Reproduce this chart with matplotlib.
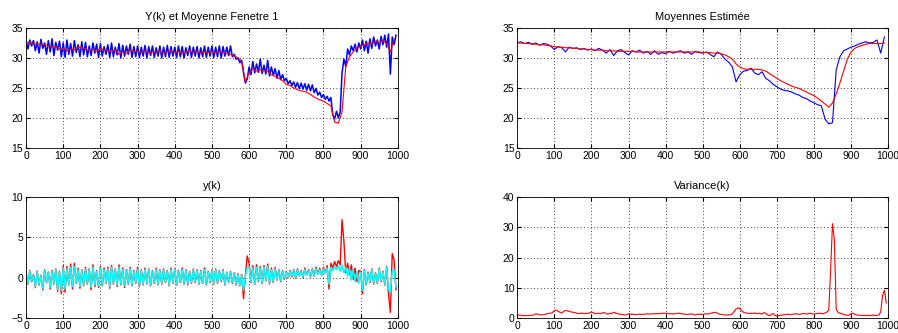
import numpy as np
import matplotlib.pyplot as plt

plt.rcParams['font.family'] = ['Liberation Sans', 'DejaVu Sans']

# Y(k), brut (pas de 5)
y_brut = [
    32.8, 31.5, 33.0, 32.0, 32.9, 31.2, 32.7, 30.8, 33.1, 31.6, 32.5, 30.6, 32.9, 31.0, 33.2, 30.4, 32.6, 31.3, 32.8, 30.2,
    32.5, 30.1, 33.0, 30.6, 32.4, 30.3, 32.9, 30.9, 32.2, 30.2, 32.7, 30.5, 32.6, 30.2, 32.0, 30.4, 32.5, 30.8, 32.3, 30.1,
    32.4, 30.3, 31.9, 30.6, 32.2, 30.1, 32.5, 30.2, 31.8, 30.5, 32.4, 30.0, 32.1, 30.3, 32.0, 30.6, 32.3, 30.1, 31.9, 30.2,
    32.0, 30.1, 31.8, 30.3, 32.1, 30.0, 31.9, 30.4, 32.0, 30.1, 31.7, 30.3, 32.0, 30.0, 31.8, 30.2, 32.1, 30.1, 31.9, 30.3,
    31.8, 30.1, 32.0, 30.2, 31.9, 30.0, 31.7, 30.4, 32.0, 30.1, 31.8, 30.3, 31.9, 30.0, 31.7, 30.2, 32.0, 30.1, 31.8, 30.3,
    32.0, 30.1, 31.8, 30.2, 32.0, 30.0, 31.9, 30.3, 31.8, 30.4, 32.0, 30.2, 30.6, 29.8, 30.0, 29.2, 29.6, 27.5, 25.8, 26.5,
    28.5, 27.2, 29.4, 27.5, 29.0, 27.6, 29.8, 27.4, 28.8, 27.3, 29.6, 27.0, 28.5, 27.1, 28.2, 26.6, 27.9, 26.4, 27.2, 26.2,
    26.6, 25.7, 26.2, 25.4, 26.0, 25.1, 25.9, 24.9, 25.8, 24.8, 25.7, 24.6, 25.6, 24.5, 25.5, 24.2, 24.9, 23.8, 24.3, 23.4,
    23.9, 23.1, 23.6, 22.8, 23.4, 20.5, 19.8, 21.1, 20.0, 21.0, 27.5, 29.8, 28.6, 31.5, 30.5, 32.0, 31.2, 32.3, 31.0, 32.5,
    31.5, 33.0, 31.2, 32.8, 30.8, 33.2, 31.6, 33.5, 32.0, 33.0, 31.5, 33.6, 32.2, 33.8, 31.8, 34.0, 27.3, 33.5, 32.2, 33.8,
]

# moyenne fenetre 1 (pas de 10)
y_moy = [
    32.5, 32.6, 32.3, 32.4, 32.2, 32.3, 32.0, 31.8, 31.9, 31.5,
    31.6, 31.2, 31.5, 31.3, 31.9, 31.7, 31.5, 31.2, 31.4, 31.1,
    31.6, 31.3, 31.2, 31.0, 31.4, 30.6, 31.0, 30.8, 31.3, 31.0,
    31.1, 30.9, 31.2, 30.8, 31.0, 30.9, 31.2, 30.8, 31.0, 31.2,
    30.9, 31.1, 30.7, 31.0, 31.2, 30.9, 31.1, 30.8, 31.0, 30.9,
    31.0, 30.8, 31.1, 30.9, 30.7, 30.6, 30.3, 30.0, 29.5, 26.0,
    27.5, 28.2, 27.8, 28.0, 27.9, 27.8, 27.2, 26.9, 26.6, 26.2,
    25.6, 25.4, 25.0, 24.7, 24.5, 24.4, 24.1, 23.7, 23.3, 23.0,
    22.8, 22.4, 22.0, 19.3, 19.1, 21.0, 28.5, 30.2, 31.0, 31.6,
    32.0, 32.2, 32.5, 32.3, 32.8, 32.6, 32.9, 32.4, 31.0, 33.2,
]

# moyennes estimees (pas de 10)
moy_est1 = [
    32.5, 32.7, 32.4, 32.6, 32.3, 32.5, 32.1, 32.4, 32.3, 32.0,
    31.4, 31.9, 31.7, 31.0, 31.8, 31.6, 31.7, 31.4, 31.6, 31.3,
    31.5, 31.2, 31.6, 31.3, 30.8, 31.4, 30.4, 31.2, 31.4, 30.9,
    30.5, 31.2, 31.0, 31.3, 30.8, 31.1, 30.6, 31.2, 30.6, 30.9,
    30.7, 31.1, 30.8, 31.0, 31.2, 30.8, 31.0, 30.6, 31.1, 30.9,
    30.8, 31.0, 30.6, 30.2, 31.0, 30.6, 29.8, 29.3, 28.5, 26.0,
    27.2, 27.8, 27.9, 28.3, 27.5, 27.2, 27.7, 26.6, 26.2, 25.6,
    25.2, 24.8, 24.6, 24.5, 24.3, 24.0, 23.8, 23.4, 23.2, 22.8,
    22.5, 22.2, 22.0, 19.8, 19.0, 19.2, 28.0, 30.2, 31.2, 31.5,
    31.8, 32.0, 32.3, 32.5, 32.7, 32.5, 32.6, 33.0, 30.8, 33.5,
]
moy_est2 = [
    32.5, 32.5, 32.4, 32.4, 32.3, 32.3, 32.2, 32.2, 32.1, 32.0,
    31.9, 31.8, 31.8, 31.7, 31.7, 31.6, 31.6, 31.5, 31.5, 31.4,
    31.4, 31.3, 31.3, 31.3, 31.2, 31.2, 31.2, 31.1, 31.1, 31.1,
    31.1, 31.1, 31.0, 31.0, 31.0, 31.0, 31.0, 31.0, 31.0, 31.0,
    31.0, 31.0, 31.0, 31.0, 31.0, 31.0, 31.0, 31.0, 31.0, 31.0,
    30.9, 30.9, 30.9, 30.8, 30.8, 30.7, 30.5, 30.2, 29.8, 29.0,
    28.5, 28.2, 28.1, 28.1, 28.1, 28.1, 28.0, 27.8, 27.4, 27.0,
    26.6, 26.2, 25.9, 25.6, 25.3, 25.1, 24.9, 24.6, 24.3, 24.0,
    23.7, 23.3, 22.8, 22.3, 21.8, 22.5, 24.0, 25.8, 27.8, 29.8,
    31.0, 31.6, 31.9, 32.1, 32.3, 32.4, 32.4, 32.4, 32.4, 32.5,
]

# y(k) (pas de 5)
y_rouge = [
    0.6, -0.8, 0.9, -0.5, 0.4, -1.2, 0.8, -0.9, 0.3, -1.5, 1.0, -0.6, 0.7, -1.4, 0.9, -0.8, 1.1, -1.7, 0.8, -2.0,
    1.5, -1.8, 1.4, -0.9, 1.7, -1.4, 1.8, -0.7, 1.2, -1.3, 1.0, -1.0, 1.3, -0.8, 1.1, -1.5, 1.6, -1.1, 0.9, -1.2,
    1.4, -1.0, 1.2, -0.7, 1.3, -1.3, 1.5, -0.8, 1.1, -1.1, 1.6, -0.9, 1.2, -1.2, 1.0, -0.8, 1.3, -1.0, 0.9, -0.7,
    1.3, -1.1, 1.0, -0.9, 1.2, -0.8, 1.1, -1.0, 0.9, -0.7, 1.2, -0.9, 1.0, -0.8, 1.1, -0.6, 0.9, -1.0, 1.2, -0.7,
    1.1, -0.9, 0.9, -0.6, 1.2, -0.8, 1.0, -0.9, 0.8, -0.7, 1.1, -0.6, 1.0, -0.8, 0.9, -0.7, 1.2, -0.9, 0.8, -0.6,
    1.0, -0.8, 1.1, -0.7, 0.9, -0.5, 1.0, -0.9, 0.7, -0.6, 0.8, -0.7, 0.6, -0.9, 0.5, -1.0, 0.4, -2.6, 0.3, 2.7,
    1.8, -0.6, 1.5, -0.8, 1.6, -0.5, 1.4, -0.7, 1.5, -0.4, 1.7, -0.8, 1.2, -0.6, 1.3, -0.3, 1.0, -0.5, 0.9, -0.2,
    0.8, 0.0, 0.9, 0.1, 1.0, -0.1, 1.1, 0.2, 0.9, 0.0, 1.2, 0.3, 1.0, 0.1, 1.1, 0.2, 1.3, 0.4, 1.2, 0.3,
    1.3, 0.5, 1.5, -1.4, 1.8, 1.2, 2.0, 1.4, 2.1, 1.6, 7.2, 4.5, 0.6, 1.8, 0.4, 1.6, -0.2, 1.2, -0.5, 0.9,
    0.8, -2.0, 1.0, -0.9, 0.7, -0.6, 1.1, -0.8, 0.6, -0.7, 1.2, -0.5, 0.8, -0.9, 1.4, -2.0, -4.3, 3.0, 2.2, -1.5,
]
y_cyan = [
    0.5, -0.7, 0.8, -0.4, 0.3, -1.1, 0.7, -0.8, 0.2, -1.3, 0.9, -0.5, 0.6, -1.2, 0.8, -0.7, 1.0, -1.5, 0.7, -1.6,
    1.2, -1.4, 1.1, -0.8, 1.3, -1.1, 1.4, -0.6, 1.0, -1.1, 0.9, -0.9, 1.1, -0.7, 1.0, -1.2, 1.3, -0.9, 0.8, -1.0,
    1.2, -0.9, 1.0, -0.6, 1.1, -1.1, 1.3, -0.7, 1.0, -0.9, 1.3, -0.8, 1.0, -1.0, 0.9, -0.7, 1.1, -0.9, 0.8, -0.6,
    1.1, -1.0, 0.9, -0.8, 1.0, -0.7, 1.0, -0.9, 0.8, -0.6, 1.0, -0.8, 0.9, -0.7, 1.0, -0.5, 0.8, -0.9, 1.0, -0.6,
    1.0, -0.8, 0.8, -0.5, 1.0, -0.7, 0.9, -0.8, 0.7, -0.6, 1.0, -0.5, 0.9, -0.7, 0.8, -0.6, 1.0, -0.8, 0.7, -0.5,
    0.9, -0.7, 1.0, -0.6, 0.8, -0.4, 0.9, -0.8, 0.6, -0.5, 0.7, -0.6, 0.5, -0.8, 0.4, -0.9, 0.3, -1.6, 0.2, 1.2,
    1.3, -0.5, 1.2, -0.7, 1.3, -0.4, 1.2, -0.6, 1.3, -0.3, 1.4, -0.7, 1.0, -0.5, 1.1, -0.2, 0.9, -0.4, 0.8, -0.1,
    0.7, 0.1, 0.8, 0.2, 0.9, 0.0, 1.0, 0.2, 0.8, 0.1, 1.0, 0.3, 0.9, 0.2, 1.0, 0.2, 1.1, 0.4, 1.0, 0.3,
    1.1, 0.5, 1.2, -0.8, 1.3, 0.9, 1.4, 1.0, 1.5, 0.8, 1.6, 0.6, 1.3, 0.2, 1.2, -0.3, 1.0, -0.5, 0.8, -0.7,
    0.7, -1.6, 0.9, -0.8, 0.6, -0.5, 1.0, -0.7, 0.5, -0.6, 1.1, -0.4, 0.7, -0.8, 1.3, -1.5, -1.8, 0.8, 1.0, -1.2,
]

# variance(k) (pas de 5)
variance = [
    1.0, 1.0, 0.9, 0.8, 0.8, 0.8, 0.8, 0.9, 0.9, 1.0, 1.4, 1.3, 1.1, 1.0, 1.1, 1.2, 1.4, 1.5, 1.6, 1.8,
    2.4, 2.7, 2.2, 1.9, 1.6, 2.2, 2.5, 2.4, 2.2, 2.0, 1.9, 1.8, 1.6, 1.5, 1.5, 1.7, 1.4, 1.6, 1.5, 1.7,
    2.0, 1.8, 1.4, 1.5, 1.6, 1.5, 1.7, 1.8, 1.4, 1.3, 1.6, 1.5, 1.9, 1.6, 1.5, 1.2, 1.3, 1.1, 1.0, 1.1,
    1.4, 1.3, 1.2, 1.2, 1.1, 1.2, 1.3, 1.2, 1.2, 1.3, 1.4, 1.3, 1.3, 1.4, 1.4, 1.5, 1.4, 1.5, 1.5, 1.6,
    1.6, 1.5, 1.4, 1.4, 1.3, 1.4, 1.5, 1.6, 1.5, 1.3, 1.3, 1.2, 1.2, 1.3, 1.4, 1.1, 1.0, 1.2, 1.3, 1.2,
    1.2, 1.3, 1.4, 1.3, 1.5, 1.7, 1.8, 1.9, 1.6, 1.3, 1.2, 1.1, 1.0, 1.0, 1.1, 1.0, 1.4, 2.2, 3.0, 3.3,
    3.2, 2.4, 1.9, 1.7, 1.6, 1.5, 1.6, 1.5, 1.7, 1.4, 1.6, 1.5, 1.3, 1.8, 1.6, 1.0, 0.8, 1.2, 1.5, 0.8,
    0.7, 0.8, 0.9, 1.0, 1.1, 1.2, 1.3, 1.1, 1.2, 1.3, 1.4, 1.3, 1.2, 1.3, 1.5, 1.4, 1.3, 1.5, 1.6, 1.4,
    1.3, 1.4, 1.5, 1.6, 1.5, 1.4, 1.7, 2.0, 2.6, 16.0, 31.2, 26.0, 3.0, 1.8, 1.6, 1.4, 1.2, 1.0, 0.9, 0.9,
    1.5, 1.6, 1.2, 1.0, 1.0, 0.9, 0.8, 0.9, 0.8, 0.9, 0.8, 0.9, 1.0, 0.8, 0.9, 1.0, 2.0, 7.5, 9.2, 5.0,
]

k5 = np.arange(0, 1000, 5)
k10 = np.arange(0, 1000, 10)

fig = plt.figure(figsize=(8.98, 3.33), dpi=100)
ax1 = fig.add_axes([0.029, 0.556, 0.414, 0.360])
ax2 = fig.add_axes([0.576, 0.556, 0.413, 0.360])
ax3 = fig.add_axes([0.029, 0.045, 0.414, 0.363])
ax4 = fig.add_axes([0.576, 0.045, 0.413, 0.363])

ax1.plot(k5, y_brut, color='#0000ff', lw=1.1)
ax1.plot(k10, y_moy, color='#ff0000', lw=0.8)
ax1.set_title('Y(k) et Moyenne Fenetre 1', fontsize=8)
ax1.set_ylim(15, 35)
ax1.set_yticks([15, 20, 25, 30, 35])

ax2.plot(k10, moy_est1, color='#0000ff', lw=0.8)
ax2.plot(k10, moy_est2, color='#ff0000', lw=0.8)
ax2.set_title('Moyennes Estimée', fontsize=8)
ax2.set_ylim(15, 35)
ax2.set_yticks([15, 20, 25, 30, 35])

ax3.plot(k5, y_rouge, color='#ff0000', lw=1.0)
ax3.plot(k5, y_cyan, color='#00ffff', lw=1.1)
ax3.set_title('y(k)', fontsize=8)
ax3.set_ylim(-5, 10)
ax3.set_yticks([-5, 0, 5, 10])

ax4.plot(k5, variance, color='#ff0000', lw=0.8)
ax4.set_title('Variance(k)', fontsize=8)
ax4.set_ylim(0, 40)
ax4.set_yticks([0, 10, 20, 30, 40])

for ax in [ax1, ax2, ax3, ax4]:
    ax.set_xlim(0, 1000)
    ax.set_xticks(np.arange(0, 1001, 100))
    ax.grid(True, color='black', linestyle=(0, (1, 3)), linewidth=0.6)
    ax.tick_params(direction='in', length=3, labelsize=7.5, top=True, right=True, pad=2)
    for s in ax.spines.values():
        s.set_linewidth(0.6)

fig.savefig('out.png', dpi=100)
